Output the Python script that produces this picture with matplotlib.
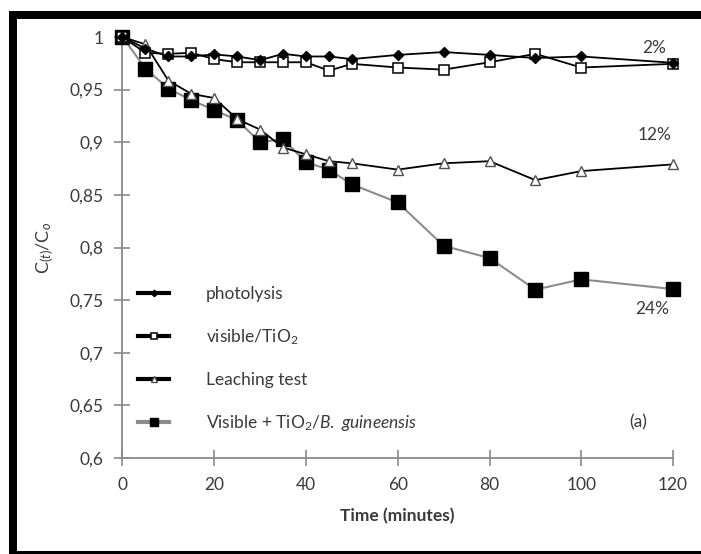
import matplotlib
matplotlib.use("Agg")
import matplotlib.pyplot as plt
from matplotlib.patches import Rectangle
from matplotlib.ticker import FuncFormatter

plt.rcParams['font.family'] = ['Lato', 'DejaVu Sans']
plt.rcParams['mathtext.fontset'] = 'custom'
plt.rcParams['mathtext.rm'] = 'Lato'
plt.rcParams['mathtext.it'] = 'Lato:italic'
plt.rcParams['mathtext.bf'] = 'Lato:bold'

time = [0, 5, 10, 15, 20, 25, 30, 35, 40, 45, 50, 60, 70, 80, 90, 100, 120]
photolysis = [1.0, 0.989, 0.9815, 0.9815, 0.9835, 0.9815, 0.978, 0.984, 0.9815, 0.9815,
              0.979, 0.983, 0.9857, 0.983, 0.980, 0.9815, 0.9755]
visible_tio2 = [1.0, 0.985, 0.984, 0.985, 0.979, 0.976, 0.976, 0.976, 0.976, 0.968,
                0.9745, 0.971, 0.969, 0.976, 0.984, 0.971, 0.9745]
leaching = [1.0, 0.993, 0.9586, 0.946, 0.942, 0.922, 0.912, 0.895, 0.8885, 0.882,
            0.880, 0.874, 0.880, 0.882, 0.864, 0.8726, 0.879]
guineensis = [1.0, 0.970, 0.951, 0.940, 0.9306, 0.921, 0.900, 0.903, 0.881, 0.874,
              0.860, 0.8428, 0.8016, 0.790, 0.760, 0.7697, 0.7605]

labels = ['photolysis', 'visible/TiO$_2$', 'Leaching test',
          'Visible + TiO$_2$/$\\it{B.\\ guineensis}$']
annotations = [('2%', 116, 0.990), ('12%', 116, 0.907), ('24%', 115.5, 0.742)]
panel_label = '(a)'
yticks = [0.6, 0.65, 0.7, 0.75, 0.8, 0.85, 0.9, 0.95, 1.0]
xticks = [0, 20, 40, 60, 80, 100, 120]

W, H = 701, 554
fig = plt.figure(figsize=(W / 100, H / 100), dpi=100)
fig.patch.set_facecolor('white')

# black frame (left, top, bottom bands)
def px_rect(x0, y0, x1, y1):
    return Rectangle((x0 / W, 1 - y1 / H), (x1 - x0) / W, (y1 - y0) / H,
                     transform=fig.transFigure, facecolor='black', edgecolor='none')
fig.patches.append(px_rect(9, 11, 17, 554))
fig.patches.append(px_rect(9, 11, 701, 19))
fig.patches.append(px_rect(9, 551, 701, 554))

ax = fig.add_axes([122.5 / W, 1 - 458 / H, (673 - 122.5) / W, (458 - 37) / H])

text_color = '#3a3a3a'
axis_color = '#8a8a8a'

ax.plot(time, guineensis, color='#8c8c8c', lw=1.5, marker='s', ms=9.5,
        mfc='black', mec='black', clip_on=False, zorder=3, label=labels[3])
ax.plot(time, leaching, color='black', lw=1.3, marker='^', ms=7,
        mfc='white', mec='#505050', mew=1.0, clip_on=False, zorder=4, label=labels[2])
ax.plot(time, visible_tio2, color='black', lw=1.3, marker='s', ms=6.5,
        mfc='white', mec='black', mew=1.1, clip_on=False, zorder=5, label=labels[1])
ax.plot(time, photolysis, color='black', lw=1.3, marker='D', ms=5,
        mfc='black', mec='black', clip_on=False, zorder=6, label=labels[0])

ax.set_xlim(0, 120)
ax.set_ylim(0.6, 1.0)
ax.set_xticks(xticks)
ax.set_yticks(yticks)

def comma_fmt(v, pos):
    s = ('%.2f' % v).rstrip('0').rstrip('.')
    return s.replace('.', ',')
ax.yaxis.set_major_formatter(FuncFormatter(comma_fmt))

for side in ('top', 'right'):
    ax.spines[side].set_visible(False)
for side in ('left', 'bottom'):
    ax.spines[side].set_color(axis_color)
    ax.spines[side].set_linewidth(1.3)
ax.tick_params(direction='inout', length=11, width=1.2, color=axis_color,
               labelsize=12.5, labelcolor=text_color)
ax.tick_params(axis='y', pad=8)
ax.tick_params(axis='x', pad=8)

ax.set_xlabel('Time (minutes)', fontsize=12.5, fontweight='bold', color=text_color, labelpad=11)
ax.set_ylabel('C$_{(t)}$/C$_o$', fontsize=13, color=text_color, labelpad=10)

for txt, x, y in annotations:
    ax.text(x, y, txt, fontsize=12.5, color=text_color, ha='center', va='center')
ax.text(112.5, 0.634, panel_label, fontsize=12.5, color=text_color, ha='center', va='center')

handles, labs = ax.get_legend_handles_labels()
order = [3, 2, 1, 0]
leg = ax.legend([handles[i] for i in order], [labs[i] for i in order],
                loc='upper left', bbox_to_anchor=(138 / W, 1 - 286 / H),
                bbox_transform=fig.transFigure, frameon=False, fontsize=12.5,
                handlelength=1.8, handletextpad=2.1, labelspacing=1.45,
                borderpad=0, borderaxespad=0, labelcolor=text_color, markerscale=0.65)
for h in leg.legend_handles:
    h.set_linewidth(3)

fig.savefig('out.png', dpi=100)
